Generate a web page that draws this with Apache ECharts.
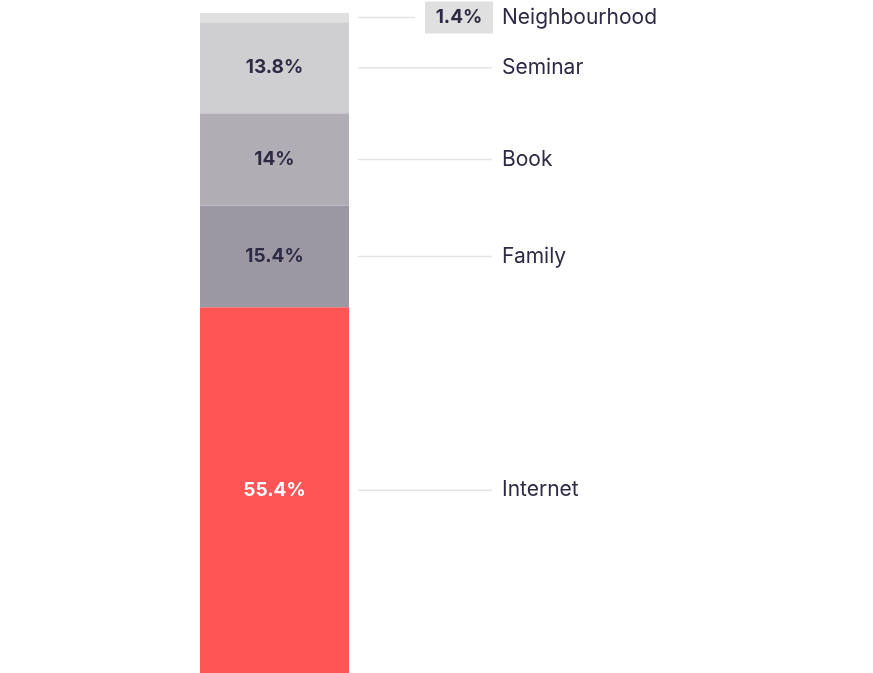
<!DOCTYPE html>
<html><head><meta charset="utf-8">
<script src="https://cdn.jsdelivr.net/npm/echarts@6/dist/echarts.min.js"></script>
<style>html,body{margin:0;background:#fff}#chart{width:873px;height:673px}</style>
</head><body><div id="chart"></div>
<script>
// bottom to top
const categories = ['Internet', 'Family', 'Book', 'Seminar', 'Neighbourhood'];
const shares = [55.4, 15.4, 14, 13.8, 1.4];
const colors = ['#ff5555', '#9b98a4', '#b0aeb4', '#cfcfd2', '#e0e0e0'];

const segs = [];
let acc = 0;
shares.forEach((v, i) => { segs.push([0, acc, acc + v, i]); acc += v; });

const chart = echarts.init(document.getElementById('chart'));
const dark = '#2e2a45';
const font = 'Inter, "Noto Sans", sans-serif';

chart.setOption({
    animation: false,
    grid: { left: 200, width: 149, top: 13, bottom: 0 },
    xAxis: { type: 'category', data: ['all'], show: false },
    yAxis: { type: 'value', min: 0, max: 100, show: false },
    series: [{
        type: 'custom',
        data: segs,
        renderItem: (params, api) => {
            const i = api.value(3);
            const bot = api.coord([0, api.value(1)]);
            const top = api.coord([0, api.value(2)]);
            const w = api.size([1, 0])[0];
            const x0 = bot[0] - w / 2, x1 = bot[0] + w / 2;
            const mid = (bot[1] + top[1]) / 2;
            const small = shares[i] < 5;
            const kids = [
                { type: 'rect', shape: { x: x0, y: top[1], width: w, height: bot[1] - top[1] }, style: { fill: colors[i] } },
                { type: 'line', shape: { x1: x1 + 9, y1: mid, x2: small ? x1 + 66 : x1 + 143, y2: mid }, style: { stroke: '#e4e4e6', lineWidth: 1.5 } },
                { type: 'text', x: x1 + 153, y: mid, style: { text: categories[i], fill: dark, font: '21px ' + font, align: 'left', verticalAlign: 'middle' } }
            ];
            if (small) {
                kids.push({ type: 'rect', shape: { x: x1 + 76, y: mid - 16, width: 68, height: 32 }, style: { fill: '#e0e0e0' } });
                kids.push({ type: 'text', x: x1 + 110, y: mid, style: { text: shares[i] + '%', fill: dark, font: 'bold 19px ' + font, align: 'center', verticalAlign: 'middle' } });
            } else {
                kids.push({ type: 'text', x: bot[0], y: mid, style: { text: shares[i] + '%', fill: i === 0 ? '#fff' : dark, font: 'bold 19px ' + font, align: 'center', verticalAlign: 'middle' } });
            }
            return { type: 'group', children: kids };
        }
    }]
});
</script></body></html>
